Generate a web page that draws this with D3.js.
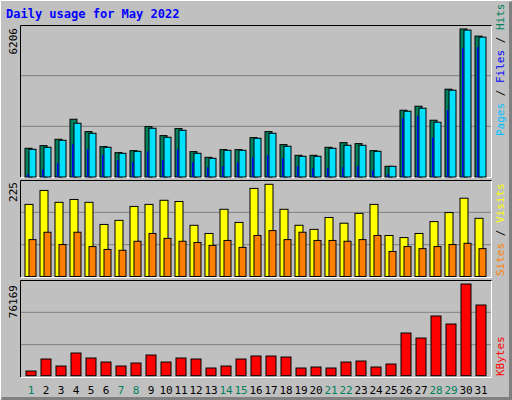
<!DOCTYPE html>
<html><head><meta charset="utf-8">
<script src="https://cdn.jsdelivr.net/npm/d3@7"></script>
<style>body{margin:0;background:#fff}svg{display:block}text{font-family:"DejaVu Sans Mono",monospace}</style>
</head><body><svg id="c" width="512" height="400"></svg>
<script>
// Daily values
const days = d3.range(1, 32);
const weekend = [1, 7, 8, 14, 15, 21, 22, 28, 29];
const hits = [1204,1316,1582,2422,1904,1274,1022,1106,2114,1736,2030,1064,826,1148,1148,1652,1904,1358,910,910,1246,1442,1400,1106,448,2800,2968,2380,3682,6206,5908];
const files = [1162,1246,1540,2254,1834,1246,994,1078,2044,1666,1960,994,784,1120,1120,1624,1834,1288,868,868,1204,1330,1330,1078,448,2758,2884,2296,3640,6160,5866];
const pages = [112,322,574,1372,1162,910,700,616,1078,700,1162,616,406,448,616,826,910,784,448,364,364,406,448,280,112,2464,2548,1666,2800,5404,5446];
const visits = [176,210,181,188,181,127,137,171,176,186,183,125,105,164,132,215,225,164,125,115,144,130,154,176,100,95,105,134,156,191,142];
const sites = [90,108,78,108,73,66,64,86,105,93,86,83,76,88,71,100,112,90,108,88,88,86,90,100,61,73,68,73,78,81,68];
const kbytes = [3878,13850,8033,18836,14681,11357,8033,10526,17174,11357,14681,13850,6371,8033,13850,16343,16343,15512,6371,7202,6371,11357,12188,7202,9695,35456,31301,49583,42935,76169,58724];

const svg = d3.select("#c");
svg.append("rect").attr("width", 512).attr("height", 400).attr("fill", "#c0c0c0");
// outer 3D border
svg.append("path").attr("d", "M0.5,399.5V0.5H511.5").attr("stroke", "#fff").attr("fill", "none");
svg.append("path").attr("d", "M1.5,398.5H510.5V1.5").attr("stroke", "#808080").attr("stroke-width", 3).attr("fill", "none");

svg.append("text").attr("x", 6).attr("y", 18).attr("fill", "#0000ff")
  .attr("font-weight", "bold").attr("font-size", 12).text("Daily usage for May 2022");

const x = d3.scaleBand().domain(days).range([21, 486]).paddingInner(0);

function panel(top, bottom) {
  svg.append("path").attr("d", `M20.5,${bottom}V${top}.5H491.5`).attr("stroke", "#000").attr("fill", "none");
  svg.append("path").attr("d", `M21,${bottom + 0.5}H491.5V${top + 1}`).attr("stroke", "#fff").attr("fill", "none");
  const h = bottom - top;
  [1, 2].forEach(i => svg.append("line").attr("x1", 21).attr("x2", 491)
    .attr("y1", top + h * i / 3).attr("y2", top + h * i / 3).attr("stroke", "#808080"));
}

function maxLabel(text, yTop) {
  svg.append("text").attr("transform", `translate(17,${yTop}) rotate(-90)`)
    .attr("text-anchor", "end").attr("font-size", 11).attr("font-family", "DejaVu Sans")
    .attr("fill", "#000").text(text);
}

function legend(parts, yBottom) {
  const t = svg.append("text").attr("transform", `translate(504,${yBottom}) rotate(-90)`)
    .attr("font-size", 11);
  parts.forEach(p => t.append("tspan").attr("fill", p[1]).text(p[0]));
}

function bars(vals, y, dx, w, fill, stroke) {
  svg.append("g").selectAll("rect").data(vals).join("rect")
    .attr("x", (d, i) => x(days[i]) + dx).attr("width", w)
    .attr("y", d => y(d)).attr("height", d => y(0) - y(d))
    .attr("fill", fill).attr("stroke", stroke ? "#000" : "none");
}

// top panel: hits / files / pages
panel(25, 177);
const y1 = d3.scaleLinear().domain([0, 6206]).range([177, 29]);
bars(hits, y1, 4, 7, "#00805c", true);
bars(files, y1, 8, 7, "#00e0ff", true);
bars(pages, y1, 6, 1.5, "#0000ff", false);
maxLabel("6206", 28);
legend([["Pages", "#00c0ff"], [" / ", "#000"], ["Files", "#0000ff"], [" / ", "#000"], ["Hits", "#00805c"]], 136);

// middle panel: visits / sites
panel(180, 277);
const y2 = d3.scaleLinear().domain([0, 225]).range([276.5, 184.3]);
bars(visits, y2, 4, 8, "#ffff00", true);
bars(sites, y2, 8, 7, "#ff8000", true);
maxLabel("225", 182);
legend([["Sites", "#ff8000"], [" / ", "#000"], ["Visits", "#ffff00"]], 276);

// bottom panel: kbytes
panel(280, 377);
const y3 = d3.scaleLinear().domain([0, 76169]).range([375.7, 284]);
bars(kbytes, y3, 5, 10, "#ff0000", true);
maxLabel("76169", 285);
legend([["KBytes", "#ff0000"]], 376);

svg.append("g").selectAll("text").data(days).join("text")
  .attr("x", d => x(d) + 10).attr("y", 394).attr("text-anchor", "middle")
  .attr("font-size", 11).attr("font-family", "DejaVu Sans")
  .attr("fill", d => weekend.includes(d) ? "#00805c" : "#000").text(d => d);
</script></body></html>
